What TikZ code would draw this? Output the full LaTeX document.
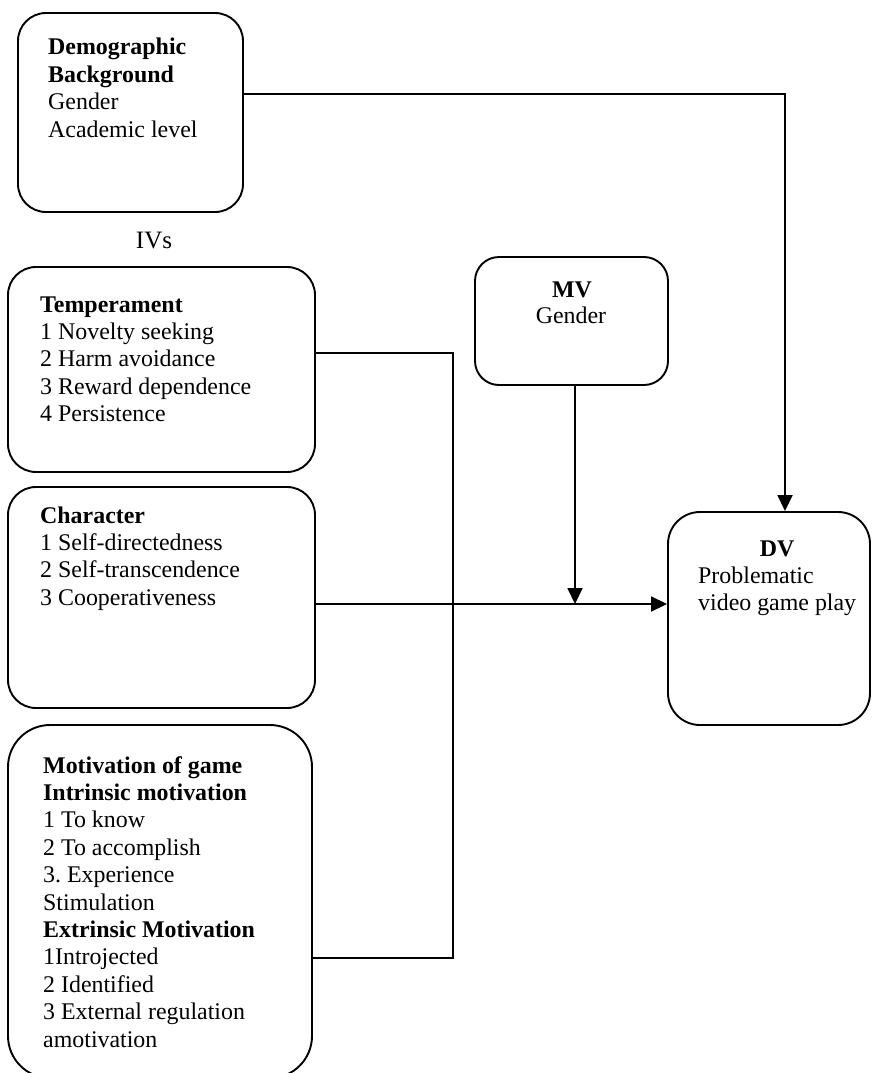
\documentclass[tikz,border=0pt]{standalone}
\usepackage{fontspec}
\setmainfont{Liberation Serif}
\usetikzlibrary{arrows.meta}
\frenchspacing
\newcommand\txtlines[1]{\parbox[t]{400pt}{\fontsize{23.9}{27.4}\selectfont #1}}
\begin{document}
\begin{tikzpicture}[x=1pt,y=-1pt,
  box/.style={draw, line width=1.9pt, rounded corners=28pt, inner sep=0pt},
  txt/.style={anchor=base west, inner sep=0pt},
  ctxt/.style={anchor=base, inner sep=0pt, font=\fontsize{23.9}{27.4}\selectfont},
  conn/.style={line width=1.8pt},
  arr/.style={conn, -{Triangle[length=16pt,width=15pt]}}]
\clip (0,0) rectangle (874,1073);
\fill[white] (0,0) rectangle (874,1073);
% boxes
\node[box, minimum width=225pt, minimum height=199pt] (demo) at (130.5,112.5) {};
\node[box, minimum width=307pt, minimum height=205pt] (temp) at (161.5,369.5) {};
\node[box, minimum width=307pt, minimum height=221pt] (char) at (161.5,597.5) {};
\node[box, rounded corners=42pt, minimum width=304pt, minimum height=353pt] (motiv) at (160,901.5) {};
\node[box, rounded corners=24pt, minimum width=193pt, minimum height=128pt] (mv) at (571.5,321) {};
\node[box, rounded corners=32pt, minimum width=202pt, minimum height=213pt] (dv) at (769,618.5) {};
% texts
\node[txt] (demotxt) at (48,55) {\txtlines{\textbf{Demographic}\\\textbf{Background}\\Gender\\Academic level}};
\node[ctxt, font=\fontsize{25}{27.4}\selectfont] (ivs) at (154,248) {IVs};
\node[txt] (temptxt) at (40,312) {\txtlines{\textbf{Temperament}\\1 Novelty seeking\\2 Harm avoidance\\3 Reward dependence\\4 Persistence}};
\node[txt] (chartxt) at (40,523) {\txtlines{\textbf{Character}\\1 Self-directedness\\2 Self-transcendence\\3 Cooperativeness}};
\node[txt] (motivtxt) at (43,773) {\txtlines{\textbf{Motivation of game}\\\textbf{Intrinsic motivation}\\1 To know\\2 To accomplish\\3. Experience\\Stimulation\\\textbf{Extrinsic Motivation}\\1Introjected\\2 Identified\\3 External regulation\\amotivation}};
\node[ctxt] (mvtitle) at (572,297) {\textbf{MV}};
\node[ctxt] (mvgender) at (571,323) {Gender};
\node[ctxt] (dvtitle) at (777,556) {\textbf{DV}};
\node[txt] (dvtxt) at (698,583) {\txtlines{Problematic\\video game play}};
% connector coordinates
\coordinate (dcorner) at (785,94);
\coordinate (tcorner) at (453,353);
\coordinate (mcorner) at (453,958);
\coordinate (junction) at (575,604);
% connectors
\draw[arr] (demo.east |- dcorner) -- (dcorner) -- (dv.north -| dcorner);
\draw[conn] (temp.east |- tcorner) -- (tcorner) -- (mcorner) -- (motiv.east |- mcorner);
\draw[arr] (char.east |- junction) -- (dv.west |- junction);
\draw[arr] (mv.south -| junction) -- (junction);
\end{tikzpicture}
\end{document}
